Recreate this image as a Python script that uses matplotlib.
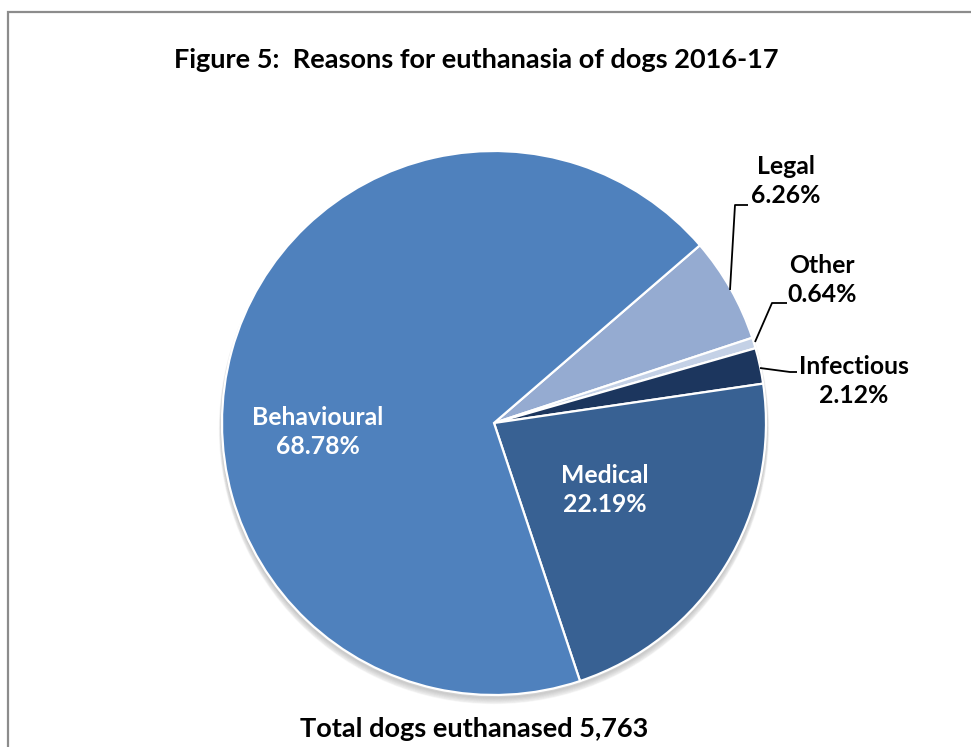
import matplotlib
matplotlib.use("Agg")
import matplotlib.pyplot as plt
from matplotlib.patches import Circle, Rectangle

plt.rcParams['font.family'] = ['Lato', 'DejaVu Sans']
plt.rcParams['font.weight'] = 'bold'

# slice order runs clockwise from the Behavioural/Legal boundary
reasons = ['Legal', 'Other', 'Infectious', 'Medical', 'Behavioural']
shares = [6.26, 0.64, 2.12, 22.19, 68.78]
colours = ['#95abd1', '#c4d1e6', '#1c365e', '#386193', '#4f81bd']
total_dogs = 5763

W, H = 971, 747
fig = plt.figure(figsize=(W / 100, H / 100), dpi=100)

# grey frame of the chart area
fig.patches.append(Rectangle((7.5 / W, -0.1), 1.2, (H - 11.5) / H + 0.1,
                             transform=fig.transFigure, fill=False,
                             edgecolor='#8c8c8c', linewidth=1.6))

# axes laid out in pixel units around the pie centre
cx, cy, R = 494, 423, 272
half = 320
ax = fig.add_axes([(cx - half) / W, (H - cy - half) / H, 2 * half / W, 2 * half / H])

# soft drop shadow under the pie, offset downwards
for i in range(6):
    ax.add_patch(Circle((0, -3 - i * 0.6), R + i * 0.5, color='black', alpha=0.03, zorder=0))

wedges, _ = ax.pie(shares, colors=colours, radius=R, startangle=40.8,
                   counterclock=False,
                   wedgeprops=dict(edgecolor='white', linewidth=1.6))
ax.set_xlim(-half, half)
ax.set_ylim(-half, half)
ax.set_aspect('equal')
ax.axis('off')

lab = dict(ha='center', va='center', fontsize=17.8, fontweight='bold', linespacing=1.3)

def label_text(i):
    return f'{reasons[i]}\n{shares[i]:.2f}%'

# inside labels
ax.text(318 - cx, cy - 432, label_text(4), color='white', **lab)
ax.text(605 - cx, cy - 490, label_text(3), color='white', **lab)

# outside labels with leader lines
ax.text(786 - cx, cy - 181, label_text(0), color='black', **lab)
ax.text(822 - cx, cy - 280, label_text(1), color='black', **lab)
ax.text(854 - cx, cy - 381, label_text(2), color='black', **lab)

def leader(pts):
    xs = [p[0] - cx for p in pts]
    ys = [cy - p[1] for p in pts]
    ax.plot(xs, ys, color='black', linewidth=1.3, solid_capstyle='butt')

leader([(730, 290), (735, 205), (748, 205)])
leader([(755, 342), (772, 303), (787, 303)])
leader([(760, 368), (790, 372), (797, 372)])

fig.text(476 / W, 1 - 60 / H, 'Figure 5:  Reasons for euthanasia of dogs 2016-17',
         ha='center', va='center', fontsize=19.5, fontweight='bold')
fig.text(474 / W, 1 - 729 / H, f'Total dogs euthanased {total_dogs:,}',
         ha='center', va='center', fontsize=19.5, fontweight='bold')

fig.savefig('out.png', dpi=100, facecolor='white')
